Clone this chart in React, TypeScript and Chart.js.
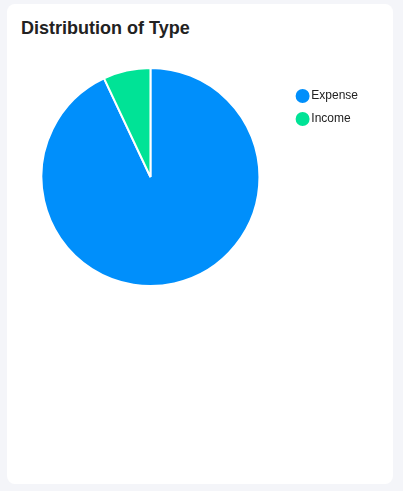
import React, { useEffect, useRef } from "react";
import { Chart, registerables } from "chart.js";

Chart.register(...registerables);

const title = "Distribution of Type";
const categories = ["Expense", "Income"];
const values = [93, 7];
const colors = ["#008FFB", "#00E396"];

export default function App() {
  const ref = useRef<HTMLCanvasElement | null>(null);

  useEffect(() => {
    if (!ref.current) return;
    const chart = new Chart(ref.current, {
      type: "pie",
      data: {
        labels: categories,
        datasets: [
          {
            data: values,
            backgroundColor: colors,
            borderColor: "#ffffff",
            borderWidth: 2,
            hoverOffset: 0,
            offset: 0,
          },
        ],
      },
      options: {
        responsive: false,
        maintainAspectRatio: false,
        animation: false,
        layout: { padding: 0 },
        plugins: {
          tooltip: { enabled: false },
          legend: {
            display: true,
            position: "right",
            align: "start",
            title: {
              display: true,
              text: " ",
              font: { size: 12, lineHeight: 1 },
              padding: 0,
            },
            labels: {
              usePointStyle: true,
              pointStyle: "circle",
              boxWidth: 5.4,
              boxHeight: 11.3,
              padding: 11,
              color: "#222222",
              font: { family: "'Liberation Sans', Arial, Helvetica, sans-serif", size: 12 },
            },
          },
        },
      },
    });
    return () => chart.destroy();
  }, []);

  return (
    <div style={{ position: "fixed", inset: 0, background: "#f4f5f9" }}>
      <div
        style={{
          position: "absolute",
          left: 7,
          top: 4,
          width: 386,
          height: 480,
          background: "#ffffff",
          borderRadius: 8,
        }}
      />
      <div
        style={{
          position: "absolute",
          left: 21,
          top: 18,
          font: "bold 18px 'Liberation Sans', Arial, Helvetica, sans-serif",
          lineHeight: "20px",
          color: "#222222",
          whiteSpace: "nowrap",
        }}
      >
        {title}
      </div>
      <canvas
        ref={ref}
        width={356}
        height={220}
        style={{ position: "absolute", left: 12, top: 67, width: 356, height: 220 }}
      />
    </div>
  );
}
